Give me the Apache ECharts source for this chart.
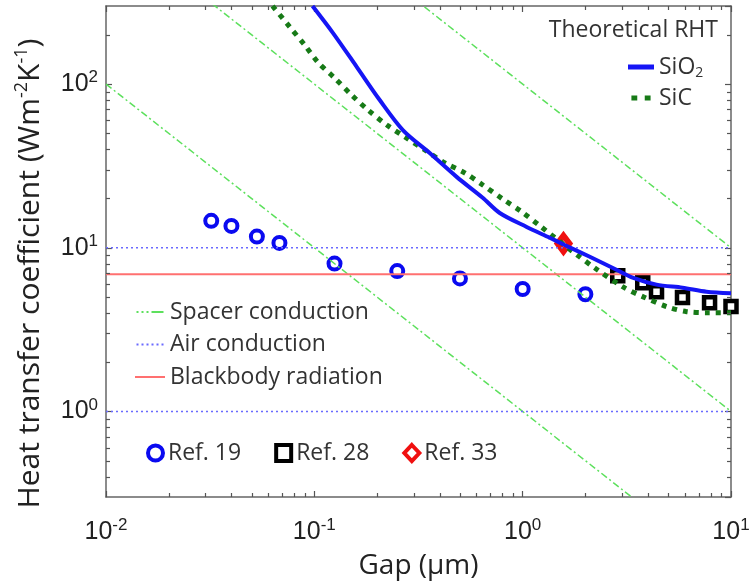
<!DOCTYPE html>
<html>
<head>
<meta charset="utf-8">
<script src="https://cdn.jsdelivr.net/npm/echarts@6/dist/echarts.min.js"></script>
<style>
  html, body { margin: 0; padding: 0; background: #fff; }
  #rht-chart { width: 749px; height: 588px; }
</style>
</head>
<body>
<div id="rht-chart"></div>
<script>
// measured points (gap in um, h in W m-2 K-1)
var ref19Gap = [0.032, 0.040, 0.053, 0.068, 0.125, 0.25, 0.5, 1.0, 2.0];
var ref19H = [14.6, 13.6, 11.7, 10.7, 8.0, 7.2, 6.5, 5.6, 5.2];
var ref28Gap = [2.86, 3.77, 4.39, 5.85, 7.89, 10.0];
var ref28H = [6.75, 6.12, 5.39, 4.96, 4.62, 4.37];
var ref33Gap = [1.57];
var ref33H = [10.6];

// theoretical curves
var sio2Gap = [0.098, 0.123, 0.160, 0.206, 0.266, 0.358, 0.482, 0.643, 0.776, 1.045, 1.35, 1.59, 2.10, 2.82, 3.37, 4.39, 5.85, 7.63, 10];
var sio2H = [300, 205, 127, 79.9, 52.4, 37.9, 27.1, 20.2, 16.3, 13.4, 11.5, 10.4, 8.81, 7.34, 6.56, 5.95, 5.70, 5.39, 5.27];
var sicGap = [0.063, 0.0763, 0.090, 0.104, 0.125, 0.151, 0.181, 0.223, 0.272, 0.339, 0.423, 0.527, 0.643, 0.80, 0.989, 1.21, 1.82, 2.21, 3.02, 3.77, 4.91, 6.12, 7.89, 10];
var sicH = [300, 223, 173, 136, 109, 85.7, 69.4, 56.2, 47.5, 39.6, 33.0, 28.7, 24.2, 19.9, 16.6, 13.6, 9.06, 7.55, 5.78, 5.03, 4.37, 4.07, 4.01, 4.01];

// reference lines
var lineEnds = [0.01, 10];
var spacer1H = [100, 0.1];
var spacer2H = [1000, 1];
var spacer3H = [10000, 10];
var airHigh = 10;
var airLow = 1;
var blackbodyH = 6.9;

// minor tick positions
var xMinorTicks = [0.02, 0.03, 0.04, 0.05, 0.06, 0.07, 0.08, 0.09,
  0.2, 0.3, 0.4, 0.5, 0.6, 0.7, 0.8, 0.9,
  2, 3, 4, 5, 6, 7, 8, 9];
var yMinorTicks = [0.4, 0.5, 0.6, 0.7, 0.8, 0.9,
  2, 3, 4, 5, 6, 7, 8, 9,
  20, 30, 40, 50, 60, 70, 80, 90, 200];

function pairs(xs, ys) {
  return xs.map(function (x, i) { return [x, ys[i]]; });
}

var dom = document.getElementById('rht-chart');
var myChart = echarts.init(dom, null, { renderer: 'canvas' });

var frameColor = '#666';
var labelFont = 'Liberation Sans';
var textFont = 'Open Sans';

function powLabel(value) {
  var e = Math.round(Math.log10(value));
  return '{b|10}{s|' + e + '}';
}

var powRich = {
  b: { fontSize: 25, fontFamily: labelFont, color: '#222', lineHeight: 30 },
  s: { fontSize: 17, fontFamily: labelFont, color: '#222', lineHeight: 16, verticalAlign: 'top' }
};

function minorTicks(axis) {
  return function (params, api) {
    var cs = params.coordSys;
    var v = api.value(axis === 'x' ? 0 : 1);
    var len = 4;
    var st = { stroke: '#555', lineWidth: 1.2 };
    if (axis === 'x') {
      var px = Math.round(api.coord([v, 1])[0]) + 0.5;
      return {
        type: 'group',
        children: [
          { type: 'line', shape: { x1: px, y1: cs.y + cs.height, x2: px, y2: cs.y + cs.height - len }, style: st },
          { type: 'line', shape: { x1: px, y1: cs.y, x2: px, y2: cs.y + len }, style: st }
        ]
      };
    }
    var py = Math.round(api.coord([1, v])[1]) + 0.5;
    return {
      type: 'group',
      children: [
        { type: 'line', shape: { x1: cs.x, y1: py, x2: cs.x + len, y2: py }, style: st },
        { type: 'line', shape: { x1: cs.x + cs.width, y1: py, x2: cs.x + cs.width - len, y2: py }, style: st }
      ]
    };
  };
}

var axisLineStyle = { show: true, lineStyle: { color: frameColor, width: 1.5 } };
var axisTickStyle = { show: true, inside: true, length: 6, lineStyle: { color: '#555', width: 1.2 } };

var spacerStyle = { color: '#5de05d', width: 1.5, type: [7, 3, 2, 3] };
var airStyle = { color: '#6a6aff', width: 1.5, type: [2, 3] };

var legendText = { fontFamily: textFont, fontSize: 23, color: '#333', lineHeight: 26 };

var option = {
  animation: false,
  backgroundColor: '#fff',
  grid: { left: 106, right: 18, top: 6, bottom: 91, outerBoundsMode: 'none', containLabel: false },
  title: {
    text: 'Theoretical RHT',
    right: 31,
    top: 17,
    padding: 0,
    textStyle: { fontFamily: textFont, fontSize: 23, fontWeight: 'normal', color: '#333', lineHeight: 26 }
  },
  legend: [
    {
      data: [
        { name: 'SiO2', icon: 'rect' },
        { name: 'SiC', icon: 'path://M0,0h7v6h-7zM16,0h7v6h-7z' }
      ],
      orient: 'vertical',
      left: 628,
      top: 54,
      padding: 0,
      itemWidth: 26,
      itemHeight: 5,
      itemGap: 5,
      itemStyle: { borderWidth: 0 },
      formatter: function (name) {
        return name === 'SiO2' ? '{t|SiO}{sub|2}' : '{t|' + name + '}';
      },
      textStyle: {
        fontFamily: textFont, fontSize: 23, color: '#333', lineHeight: 26,
        rich: {
          t: legendText,
          sub: { fontFamily: textFont, fontSize: 14, color: '#333', lineHeight: 14, verticalAlign: 'bottom' }
        }
      }
    },
    {
      data: [
        { name: 'Spacer conduction', icon: 'path://M0,0h2v2h-2zM5,0h2v2h-2zM10,0h2v2h-2zM15,0h12v2h-12z' },
        { name: 'Air conduction', icon: 'path://M0,0h2v2h-2zM5,0h2v2h-2zM10,0h2v2h-2zM15,0h2v2h-2zM20,0h2v2h-2zM25,0h2v2h-2z' },
        { name: 'Blackbody radiation', icon: 'rect' }
      ],
      orient: 'vertical',
      left: 135,
      top: 299,
      padding: 0,
      itemWidth: 30,
      itemHeight: 2,
      itemGap: 6.5,
      itemStyle: { borderWidth: 0 },
      textStyle: legendText
    },
    {
      data: ['Ref. 19', 'Ref. 28', 'Ref. 33'],
      orient: 'horizontal',
      left: 146,
      top: 440,
      padding: 0,
      itemWidth: 15,
      itemHeight: 16,
      itemGap: 33,
      itemStyle: { borderWidth: 4 },
      textStyle: legendText
    }
  ],
  xAxis: [
    {
      type: 'log',
      logBase: 10,
      min: 0.01,
      max: 10,
      position: 'bottom',
      name: 'Gap (\u00b5m)',
      nameLocation: 'middle',
      nameGap: 52,
      nameMoveOverlap: false,
      nameTextStyle: { fontFamily: textFont, fontSize: 28, color: '#222', lineHeight: 34 },
      axisLine: axisLineStyle,
      axisTick: axisTickStyle,
      axisLabel: { margin: 20, formatter: powLabel, rich: powRich },
      splitLine: { show: false }
    },
    {
      type: 'log',
      logBase: 10,
      min: 0.01,
      max: 10,
      position: 'top',
      axisLine: axisLineStyle,
      axisTick: axisTickStyle,
      axisLabel: { show: false },
      splitLine: { show: false }
    }
  ],
  yAxis: [
    {
      type: 'log',
      logBase: 10,
      min: 0.3,
      max: 300,
      position: 'left',
      name: '{a|Heat transfer coefficient (Wm}{s|-2}{a|K}{s|-1}{a|)}',
      nameLocation: 'middle',
      nameGap: 59,
      nameMoveOverlap: false,
      nameTextStyle: {
        padding: [0, 44, 0, 0],
        rich: {
          a: { fontFamily: textFont, fontSize: 30, color: '#222', lineHeight: 34 },
          s: { fontFamily: textFont, fontSize: 18, color: '#222', lineHeight: 18, verticalAlign: 'top' }
        }
      },
      axisLine: axisLineStyle,
      axisTick: axisTickStyle,
      axisLabel: { margin: 8, formatter: powLabel, rich: powRich, showMinLabel: false, showMaxLabel: false },
      splitLine: { show: false }
    },
    {
      type: 'log',
      logBase: 10,
      min: 0.3,
      max: 300,
      position: 'right',
      axisLine: axisLineStyle,
      axisTick: axisTickStyle,
      axisLabel: { show: false },
      splitLine: { show: false }
    }
  ],
  series: [
    {
      type: 'custom', silent: true, z: 5, renderItem: minorTicks('x'),
      data: xMinorTicks.map(function (v) { return [v, 1]; })
    },
    {
      type: 'custom', silent: true, z: 5, renderItem: minorTicks('y'),
      data: yMinorTicks.map(function (v) { return [1, v]; })
    },
    { name: 'Spacer conduction', type: 'line', symbol: 'none', lineStyle: spacerStyle, itemStyle: { color: spacerStyle.color }, data: pairs(lineEnds, spacer1H) },
    { name: 'Spacer conduction', type: 'line', symbol: 'none', lineStyle: spacerStyle, itemStyle: { color: spacerStyle.color }, data: pairs(lineEnds, spacer2H) },
    { name: 'Spacer conduction', type: 'line', symbol: 'none', lineStyle: spacerStyle, itemStyle: { color: spacerStyle.color }, data: pairs(lineEnds, spacer3H) },
    { name: 'Air conduction', type: 'line', symbol: 'none', lineStyle: airStyle, itemStyle: { color: airStyle.color }, data: pairs(lineEnds, [airHigh, airHigh]) },
    { name: 'Air conduction', type: 'line', symbol: 'none', lineStyle: airStyle, itemStyle: { color: airStyle.color }, data: pairs(lineEnds, [airLow, airLow]) },
    {
      name: 'Blackbody radiation', type: 'line', symbol: 'none',
      lineStyle: { color: '#ff7070', width: 2 }, itemStyle: { color: '#ff7070' },
      data: pairs(lineEnds, [blackbodyH, blackbodyH])
    },
    {
      name: 'SiC', type: 'line', symbol: 'none', smooth: 0.3,
      lineStyle: { color: '#177a17', width: 5, type: [5, 6], cap: 'butt' }, itemStyle: { color: '#177a17' },
      data: pairs(sicGap, sicH)
    },
    {
      name: 'SiO2', type: 'line', symbol: 'none', smooth: 0.3,
      lineStyle: { color: '#1515f5', width: 4 }, itemStyle: { color: '#1515f5' },
      data: pairs(sio2Gap, sio2H)
    },
    {
      name: 'Ref. 19', type: 'scatter', symbol: 'circle', symbolSize: 12,
      itemStyle: { color: '#fff', borderColor: '#0a0af0', borderWidth: 4, opacity: 1 },
      data: pairs(ref19Gap, ref19H)
    },
    {
      name: 'Ref. 28', type: 'scatter', symbol: 'rect', symbolSize: 11,
      itemStyle: { color: '#fff', borderColor: '#000', borderWidth: 4.5, opacity: 1 },
      data: pairs(ref28Gap, ref28H)
    },
    {
      name: 'Ref. 33', type: 'scatter', symbol: 'diamond', symbolSize: [12, 16],
      itemStyle: { color: '#fff', borderColor: '#f01010', borderWidth: 6, opacity: 1 },
      data: pairs(ref33Gap, ref33H)
    }
  ]
};

myChart.setOption(option);
window.addEventListener('resize', myChart.resize);
</script>
</body>
</html>
